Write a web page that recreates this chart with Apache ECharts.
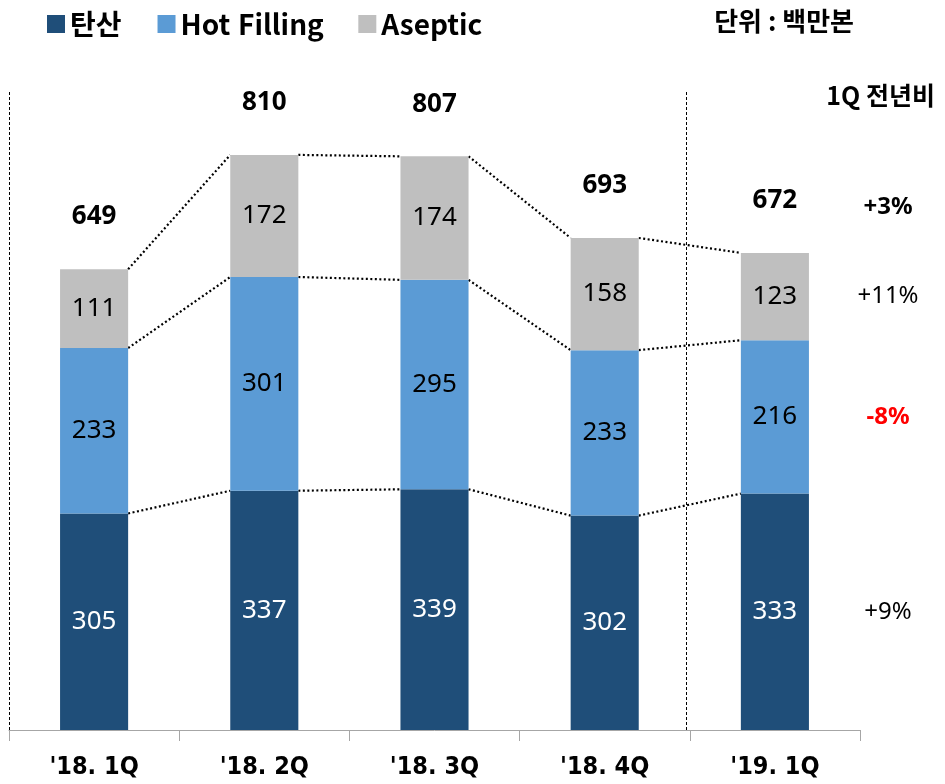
<!DOCTYPE html>
<html lang="ko">
<head>
<meta charset="UTF-8">
<title>분기별 판매량</title>
<script src="https://cdn.jsdelivr.net/npm/echarts@6/dist/echarts.min.js"></script>
<style>
  html, body { margin: 0; padding: 0; background: #fff; }
  #main { width: 945px; height: 784px; }
</style>
</head>
<body>
<div id="main"></div>
<script type="text/javascript">
// data
var quarters = ["'18. 1Q", "'18. 2Q", "'18. 3Q", "'18. 4Q", "'19. 1Q"];
var tansan = [305, 337, 339, 302, 333];
var hotFilling = [233, 301, 295, 233, 216];
var aseptic = [111, 172, 174, 158, 123];
var totals = [649, 810, 807, 693, 672];
// 1Q 전년비: total, Aseptic, Hot Filling, 탄산
var yoyText = ['+3%', '+11%', '-8%', '+9%'];

var colors = ['#1f4e79', '#5b9bd5', '#bfbfbf'];
var numFont = 'Noto Sans';
var krFont = 'Noto Sans CJK KR';

// connector rows: [i, cum levels of bar i, cum levels of bar i+1]
function cums(i) {
    var a = tansan[i], b = a + hotFilling[i], c = b + aseptic[i];
    return [a, b, c];
}
var connectors = [];
for (var i = 0; i < quarters.length - 1; i++) {
    connectors.push([i].concat(cums(i), cums(i + 1)));
}

var chart = echarts.init(document.getElementById('main'));

function barLabel(color) {
    return {
        show: true,
        position: 'inside',
        color: color,
        fontFamily: numFont,
        fontSize: 26
    };
}

chart.setOption({
    animation: false,
    color: colors,
    title: {
        text: '단위 : 백만본',
        right: 86,
        top: 3,
        textStyle: { fontFamily: krFont, fontWeight: 'bold', fontSize: 26, color: '#000' }
    },
    legend: {
        left: 42,
        top: 5,
        icon: 'rect',
        itemWidth: 18,
        itemHeight: 18,
        itemGap: 36,
        data: ['탄산', 'Hot Filling', 'Aseptic'],
        textStyle: { fontFamily: krFont, fontWeight: 'bold', fontSize: 28, color: '#000' }
    },
    grid: { left: 9, right: 85, top: 91, bottom: 54 },
    xAxis: [{
        type: 'category',
        data: quarters,
        axisLine: { lineStyle: { color: '#a6a6a6', width: 1 } },
        axisTick: { show: true, length: 11, lineStyle: { color: '#a6a6a6' } },
        axisLabel: {
            margin: 25,
            color: '#000',
            fontFamily: '"DejaVu Sans Condensed", "Roboto"',
            fontWeight: 'bold',
            fontSize: 25
        }
    }, {
        type: 'value',
        min: 0,
        max: 5,
        show: false
    }],
    yAxis: {
        type: 'value',
        min: 0,
        max: 900,
        show: false
    },
    series: [{
        name: '탄산',
        type: 'bar',
        stack: 'q',
        barWidth: '40%',
        data: tansan,
        label: barLabel('#fff')
    }, {
        name: 'Hot Filling',
        type: 'bar',
        stack: 'q',
        barWidth: '40%',
        data: hotFilling,
        label: barLabel('#000')
    }, {
        name: 'Aseptic',
        type: 'bar',
        stack: 'q',
        barWidth: '40%',
        data: aseptic,
        label: barLabel('#000')
    }, {
        name: 'total',
        type: 'line',
        data: totals,
        symbol: 'circle',
        symbolSize: 1,
        showSymbol: true,
        itemStyle: { color: 'transparent' },
        lineStyle: { opacity: 0 },
        silent: true,
        label: {
            show: true,
            position: 'top',
            distance: 39,
            color: '#000',
            fontFamily: numFont,
            fontWeight: 'bold',
            fontSize: 26
        }
    }, {
        name: 'connectors',
        type: 'custom',
        silent: true,
        data: connectors,
        encode: { x: 0, y: [1, 2, 3] },
        renderItem: function (params, api) {
            var idx = api.value(0);
            var half = api.size([1, 0])[0] * 0.2;
            var children = [];
            for (var k = 1; k <= 3; k++) {
                var p1 = api.coord([idx, api.value(k)]);
                var p2 = api.coord([idx + 1, api.value(k + 3)]);
                children.push({
                    type: 'line',
                    shape: { x1: p1[0] + half, y1: p1[1], x2: p2[0] - half, y2: p2[1] },
                    style: { stroke: '#000', lineWidth: 2.2, lineDash: [2, 2.5] }
                });
            }
            return { type: 'group', children: children };
        }
    }, {
        name: 'dividers',
        type: 'line',
        xAxisIndex: 1,
        data: [],
        markLine: {
            silent: true,
            symbol: 'none',
            label: { show: false },
            lineStyle: { color: '#000', width: 1, type: [3, 2] },
            data: [{ xAxis: 0 }, { xAxis: 3.98 }]
        }
    }]
});

// 1Q 전년비 column, placed beside the last bar's segments
var last = quarters.length - 1;
var lc = cums(last);
var yOf = function (v) { return chart.convertToPixel({ yAxisIndex: 0 }, v); };
var anchorY = [
    yOf(totals[last]) - 46,
    yOf((lc[1] + lc[2]) / 2),
    yOf((lc[0] + lc[1]) / 2),
    yOf(lc[0] / 2)
];
var yoyStyle = [
    { fontWeight: 'bold', fill: '#000' },
    { fontWeight: 'normal', fill: '#000' },
    { fontWeight: 'bold', fill: '#ff0000' },
    { fontWeight: 'normal', fill: '#000' }
];
var graphics = [{
    type: 'text',
    right: 10,
    top: 83,
    style: { text: '1Q 전년비', font: 'bold 25px "Noto Sans CJK KR"', fill: '#000' }
}];
yoyText.forEach(function (t, j) {
    graphics.push({
        type: 'text',
        x: 888,
        y: anchorY[j],
        style: {
            text: t,
            fill: yoyStyle[j].fill,
            font: yoyStyle[j].fontWeight + ' 24px "Noto Sans"',
            align: 'center',
            verticalAlign: 'middle'
        }
    });
});
chart.setOption({ graphic: graphics });
</script>
</body>
</html>
